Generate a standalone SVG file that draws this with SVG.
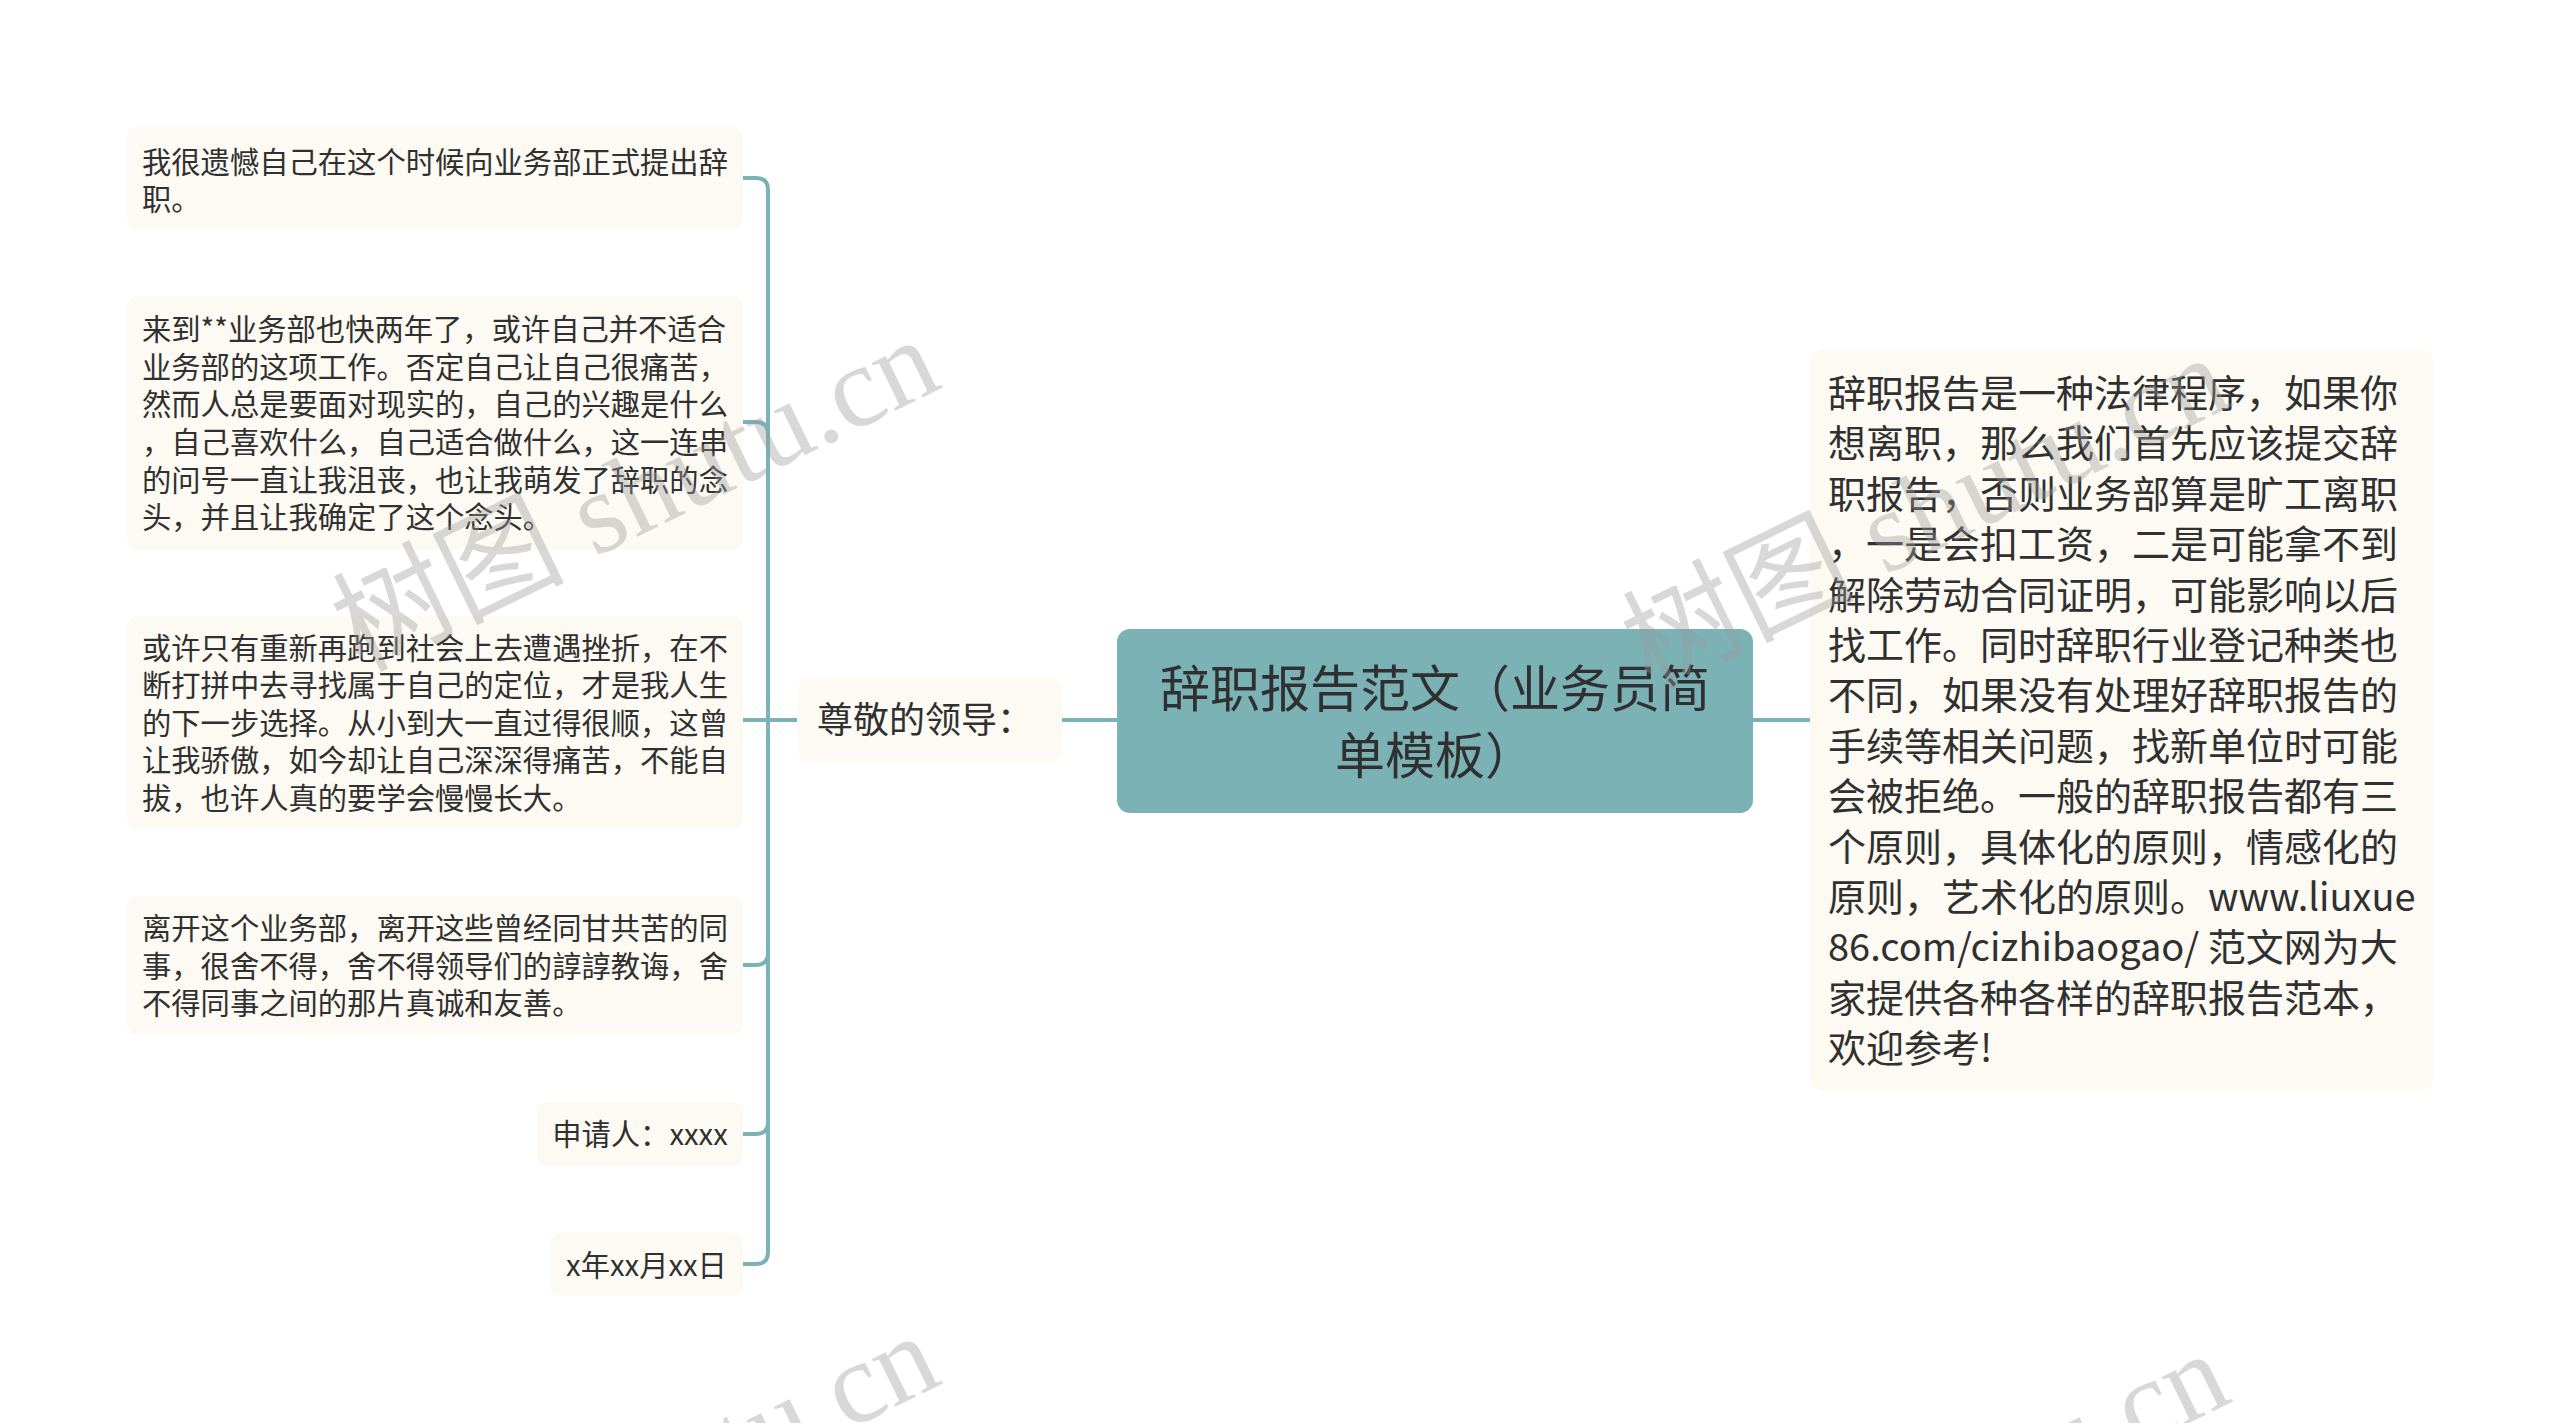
<svg xmlns="http://www.w3.org/2000/svg" width="2560" height="1423" viewBox="0 0 2560 1423">
<style>
.box{fill:#fcfaf2;}
.t{font-family:"Noto Sans CJK SC","Noto Sans",sans-serif;fill:#303030;}
.s{font-size:29.3px;}
.r{font-size:38px;}
.c{font-size:50px;}
.m{font-size:36px;}
.ln{fill:none;stroke:#7ab2b5;stroke-width:4;}
.wm{font-family:"Liberation Serif","Noto Sans CJK SC",serif;font-size:116px;fill:#9a9a9a;opacity:0.38;}
</style>
<rect width="2560" height="1423" fill="#ffffff"/>
<g id="connectors">
<path class="ln" d="M797,720 H768 V190 Q768,178 756,178 H743"/>
<path class="ln" d="M797,720 H768 V434 Q768,422 756,422 H743"/>
<path class="ln" d="M797,720 H743"/>
<path class="ln" d="M797,720 H768 V953 Q768,965 756,965 H743"/>
<path class="ln" d="M797,720 H768 V1122 Q768,1134 756,1134 H743"/>
<path class="ln" d="M797,720 H768 V1252 Q768,1264 756,1264 H743"/>
<path class="ln" d="M1062,720 H1117"/>
<path class="ln" d="M1753,720 H1810"/>
</g>
<g id="center">
<rect x="1117" y="629" width="636" height="184" rx="13" fill="#7ab2b5"/>
<text class="t c" x="1435" text-anchor="middle"><tspan x="1435" y="707">辞职报告范文（业务员简</tspan><tspan x="1435" y="774">单模板）</tspan></text>
</g>
<g id="greeting">
<rect class="box" x="798" y="677" width="264" height="86" rx="11"/>
<text class="t m" x="817" y="733">尊敬的领导：</text>
</g>
<g id="n1">
<rect class="box" x="127" y="127" width="616" height="102" rx="11"/>
<text class="t s"><tspan x="142" y="173">我很遗憾自己在这个时候向业务部正式提出辞</tspan><tspan x="142" y="210">职。</tspan></text>
</g>
<g id="n2">
<rect class="box" x="127" y="296" width="616" height="254" rx="11"/>
<text class="t s"><tspan x="142" y="340">来到**业务部也快两年了，或许自己并不适合</tspan><tspan x="142" y="378">业务部的这项工作。否定自己让自己很痛苦，</tspan><tspan x="142" y="415">然而人总是要面对现实的，自己的兴趣是什么</tspan><tspan x="142" y="453">，自己喜欢什么，自己适合做什么，这一连串</tspan><tspan x="142" y="491">的问号一直让我沮丧，也让我萌发了辞职的念</tspan><tspan x="142" y="528">头，并且让我确定了这个念头。</tspan></text>
</g>
<g id="n3">
<rect class="box" x="127" y="616" width="616" height="213" rx="11"/>
<text class="t s"><tspan x="142" y="659">或许只有重新再跑到社会上去遭遇挫折，在不</tspan><tspan x="142" y="696">断打拼中去寻找属于自己的定位，才是我人生</tspan><tspan x="142" y="734">的下一步选择。从小到大一直过得很顺，这曾</tspan><tspan x="142" y="771">让我骄傲，如今却让自己深深得痛苦，不能自</tspan><tspan x="142" y="809">拔，也许人真的要学会慢慢长大。</tspan></text>
</g>
<g id="n4">
<rect class="box" x="127" y="896" width="616" height="139" rx="11"/>
<text class="t s"><tspan x="142" y="939">离开这个业务部，离开这些曾经同甘共苦的同</tspan><tspan x="142" y="977">事，很舍不得，舍不得领导们的諄諄教诲，舍</tspan><tspan x="142" y="1014">不得同事之间的那片真诚和友善。</tspan></text>
</g>
<g id="n5">
<rect class="box" x="537" y="1102" width="206" height="64" rx="11"/>
<text class="t s" x="640" y="1145" text-anchor="middle">申请人：xxxx</text>
</g>
<g id="n6">
<rect class="box" x="550" y="1233" width="193" height="63" rx="11"/>
<text class="t s" x="646.5" y="1276" text-anchor="middle">x年xx月xx日</text>
</g>
<g id="right">
<rect class="box" x="1810" y="349" width="623" height="742" rx="13"/>
<text class="t r"><tspan x="1828" y="407">辞职报告是一种法律程序，如果你</tspan><tspan x="1828" y="457.4">想离职，那么我们首先应该提交辞</tspan><tspan x="1828" y="507.8">职报告，否则业务部算是旷工离职</tspan><tspan x="1828" y="558.2">，一是会扣工资，二是可能拿不到</tspan><tspan x="1828" y="608.6">解除劳动合同证明，可能影响以后</tspan><tspan x="1828" y="659">找工作。同时辞职行业登记种类也</tspan><tspan x="1828" y="709.4">不同，如果没有处理好辞职报告的</tspan><tspan x="1828" y="759.8">手续等相关问题，找新单位时可能</tspan><tspan x="1828" y="810.2">会被拒绝。一般的辞职报告都有三</tspan><tspan x="1828" y="860.6">个原则，具体化的原则，情感化的</tspan><tspan x="1828" y="911">原则，艺术化的原则。www.liuxue</tspan><tspan x="1828" y="961.4">86.com/cizhibaogao/ 范文网为大</tspan><tspan x="1828" y="1011.8">家提供各种各样的辞职报告范本，</tspan><tspan x="1828" y="1062.2">欢迎参考!</tspan></text>
</g>
<g id="watermark">
<text class="wm" transform="translate(360,672) rotate(-26)">树图 shutu.cn</text>
<text class="wm" transform="translate(1650,690) rotate(-26)">树图 shutu.cn</text>
<text class="wm" transform="translate(360,1668) rotate(-26)">树图 shutu.cn</text>
<text class="wm" transform="translate(1650,1686) rotate(-26)">树图 shutu.cn</text>
</g>
</svg>
